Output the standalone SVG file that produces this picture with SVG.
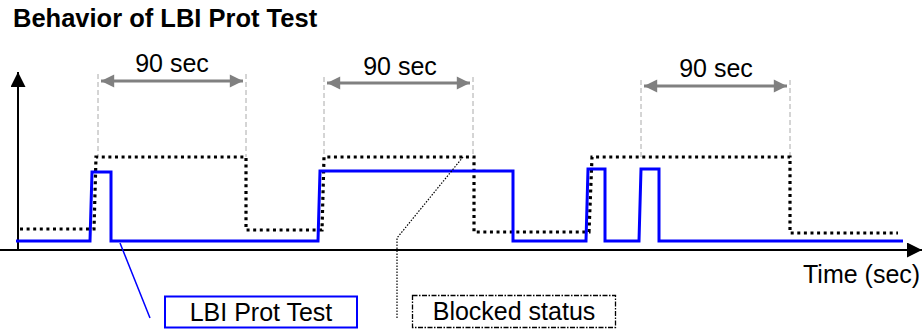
<svg xmlns="http://www.w3.org/2000/svg" width="924" height="332" viewBox="0 0 924 332">
<style>
text{font-family:"Liberation Sans",Arial,sans-serif;fill:#000}
.title{font-size:25.5px;font-weight:bold}
.lbl{font-size:25px}
.axis{stroke:#000;stroke-width:2;fill:none}
.blue{stroke:#0000ff;stroke-width:3;fill:none;stroke-linejoin:miter}
.dot{stroke:#000;stroke-width:3.2;fill:none;stroke-dasharray:3 3.6}
.guide{stroke:#aaa;stroke-width:1;fill:none;stroke-dasharray:5 3}
.dim{stroke:#808080;stroke-width:3;fill:none;marker-start:url(#ga);marker-end:url(#ga)}
</style>
<defs>
<marker id="ga" viewBox="0 0 10 10" refX="10" refY="5" markerWidth="5" markerHeight="4.4" orient="auto-start-reverse" markerUnits="strokeWidth"><path d="M0,0L10,5L0,10z" fill="#808080"/></marker>
<marker id="ka" viewBox="0 0 10 10" refX="10" refY="5" markerWidth="8" markerHeight="7.5" orient="auto" markerUnits="strokeWidth"><path d="M0,0L10,5L0,10z" fill="#000"/></marker>
</defs>
<g id="title"><text class="title" x="13" y="27">Behavior of LBI Prot Test</text></g>
<g id="axes">
<line class="axis" x1="18" y1="251" x2="18" y2="72" marker-end="url(#ka)"/>
<line class="axis" x1="0" y1="250" x2="922" y2="250" marker-end="url(#ka)"/>
<text class="lbl" x="803" y="283">Time (sec)</text>
</g>
<g id="guides">
<line class="guide" x1="98" y1="74" x2="98" y2="157"/>
<line class="guide" x1="246" y1="74" x2="246" y2="157"/>
<line class="guide" x1="324" y1="77" x2="324" y2="157"/>
<line class="guide" x1="473" y1="77" x2="473" y2="157"/>
<line class="guide" x1="641" y1="80" x2="641" y2="157"/>
<line class="guide" x1="790" y1="80" x2="790" y2="157"/>
</g>
<g id="dimensions">
<line class="dim" x1="101" y1="81" x2="243" y2="81"/>
<text class="lbl" x="172" y="72" text-anchor="middle">90 sec</text>
<line class="dim" x1="327" y1="83" x2="470" y2="83"/>
<text class="lbl" x="400" y="75" text-anchor="middle">90 sec</text>
<line class="dim" x1="644" y1="86" x2="787" y2="86"/>
<text class="lbl" x="716" y="77" text-anchor="middle">90 sec</text>
</g>
<g id="blocked-signal">
<path class="dot" d="M20,229 L94,229 L96,157 L246,157 L246,230 L322,230 L324,157 L474,157 L474,232 L589,232 L592,157 L790,157 L790,233 L898,233"/>
</g>
<g id="lbi-signal">
<path class="blue" d="M16,241 L90,241 L92,172 L111,172 L111,241 L318,241 L320,171 L513,171 L513,241 L586,241 L588,169 L605,169 L605,241 L639,241 L641,169 L659,169 L659,241 L903,241"/>
</g>
<g id="connectors">
<line x1="120" y1="243" x2="150" y2="318" stroke="#0000ff" stroke-width="1.5"/>
<path d="M463,157 L397,238 L397,318" fill="none" stroke="#000" stroke-width="1.2" stroke-dasharray="1.5 1.5"/>
</g>
<g id="lbi-label">
<rect x="165" y="296.5" width="192" height="31" fill="#fff" stroke="#0000ff" stroke-width="2"/>
<text class="lbl" x="261" y="321" text-anchor="middle">LBI Prot Test</text>
</g>
<g id="blocked-label">
<rect x="412.5" y="295.5" width="203" height="32" fill="#fff" stroke="#000" stroke-width="1.3" stroke-dasharray="5 1.5 1.5 1.5"/>
<text class="lbl" x="514" y="320" text-anchor="middle">Blocked status</text>
</g>
</svg>
